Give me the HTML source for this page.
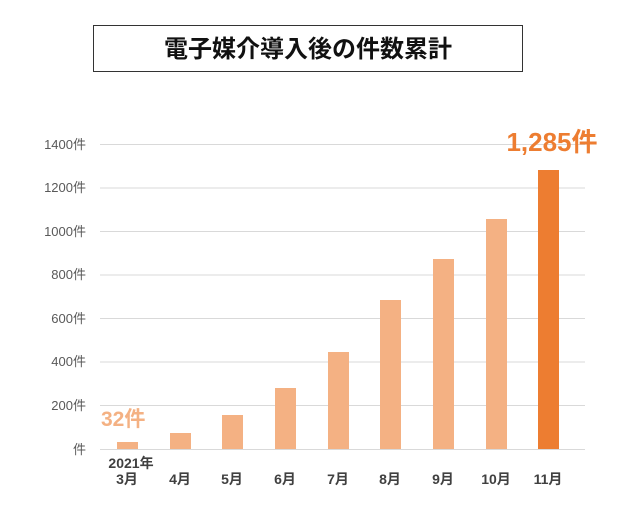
<!DOCTYPE html>
<html><head><meta charset="utf-8"><style>
body{margin:0;background:#fff;width:640px;height:520px;overflow:hidden;font-family:"Liberation Sans","Noto Sans CJK JP",sans-serif}
</style></head><body>
<svg width="640" height="520" xmlns="http://www.w3.org/2000/svg" font-family="Liberation Sans, Noto Sans CJK JP, sans-serif">
<rect x="93.5" y="25.5" width="429" height="46" fill="#fff" stroke="#333" stroke-width="1"/>
<text x="308" y="57" text-anchor="middle" font-size="24" font-weight="bold" fill="#111">電子媒介導入後の件数累計</text>
<g stroke="#d9d9d9" stroke-width="1">
<line x1="100" x2="585" y1="144.5" y2="144.5"/>
<line x1="100" x2="585" y1="188" y2="188"/>
<line x1="100" x2="585" y1="231.5" y2="231.5"/>
<line x1="100" x2="585" y1="275" y2="275"/>
<line x1="100" x2="585" y1="318.5" y2="318.5"/>
<line x1="100" x2="585" y1="362" y2="362"/>
<line x1="100" x2="585" y1="405.5" y2="405.5"/>
<line x1="100" x2="585" y1="449.5" y2="449.5"/>
</g>
<g font-size="13" fill="#595959" text-anchor="end">
<text x="86" y="149">1400件</text>
<text x="86" y="192">1200件</text>
<text x="86" y="236">1000件</text>
<text x="86" y="279">800件</text>
<text x="86" y="323">600件</text>
<text x="86" y="366">400件</text>
<text x="86" y="410">200件</text>
<text x="86" y="454">件</text>
</g>
<g fill="#f4b183">
<rect x="117" y="442" width="21" height="7"/>
<rect x="170" y="433" width="21" height="16"/>
<rect x="222" y="415" width="21" height="34"/>
<rect x="275" y="388" width="21" height="61"/>
<rect x="328" y="352" width="21" height="97"/>
<rect x="380" y="300" width="21" height="149"/>
<rect x="433" y="259" width="21" height="190"/>
<rect x="486" y="219" width="21" height="230"/>
</g>
<rect x="538" y="170" width="21" height="279" fill="#ed7d31"/>
<text x="101" y="426" font-size="21" font-weight="bold" fill="#f4b183">32件</text>
<text x="552" y="151" text-anchor="middle" font-size="26" font-weight="bold" fill="#ed7d31">1,285件</text>
<g font-size="14" font-weight="bold" fill="#404040" text-anchor="middle">
<text x="131" y="468">2021年</text>
<text x="127" y="484">3月</text>
<text x="180" y="484">4月</text>
<text x="232" y="484">5月</text>
<text x="285" y="484">6月</text>
<text x="338" y="484">7月</text>
<text x="390" y="484">8月</text>
<text x="443" y="484">9月</text>
<text x="496" y="484">10月</text>
<text x="548" y="484">11月</text>
</g>
</svg>
</body></html>
